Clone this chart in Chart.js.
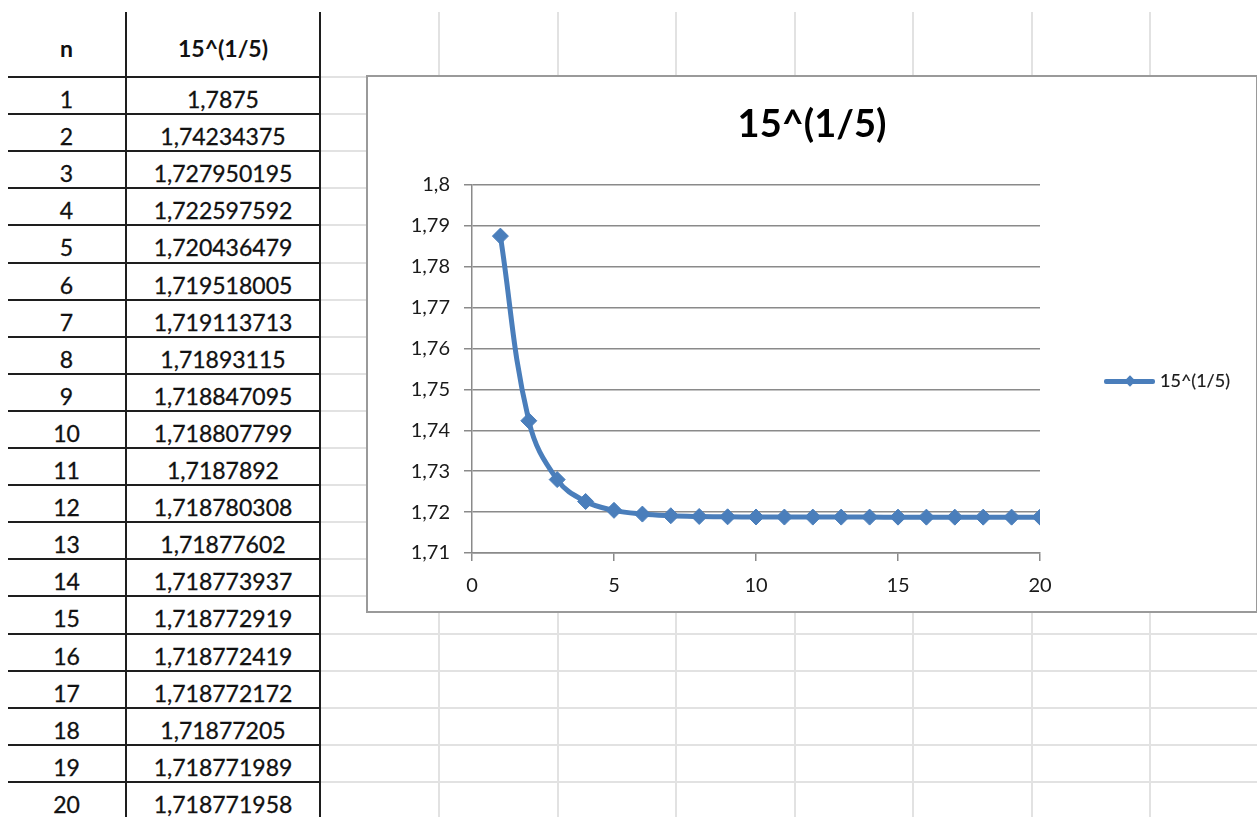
<!DOCTYPE html>
<html lang="ru">
<head>
  <meta charset="UTF-8" />
  <title>15^(1/5)</title>
  <script src="https://cdn.jsdelivr.net/npm/chart.js"></script>
  <style>
    * { box-sizing: border-box; }
    html, body { margin: 0; padding: 0; }
    body {
      width: 1257px;
      height: 817px;
      overflow: hidden;
      position: relative;
      background: #fff;
      font-family: Lato, 'Open Sans', sans-serif;
      color: #111;
    }
    .line { position: absolute; }
    .sheet { background: #e2e2e2; }
    .border { background: #1e1e1e; }
    .cell {
      position: absolute;
      text-align: center;
      font-size: 23px;
      line-height: 37px;
      padding-top: 4px;
      white-space: nowrap;
      -webkit-text-stroke: 0.3px #111;
    }
    .head { font-weight: 700; font-size: 23px; -webkit-text-stroke: 0; }
    #chartBox {
      position: absolute;
      left: 366px;
      top: 75px;
      width: 892px;
      height: 538px;
      border: 2px solid #9a9a9a;
      background: #fff;
    }
    #chartBox canvas { position: absolute; left: 0; top: 0; }
    .title {
      position: absolute;
      left: 0; right: 0;
      top: 27px;
      text-align: center;
      font-weight: 700;
      font-size: 38px;
      line-height: 37px;
      color: #000;
    }
    .legend-line {
      position: absolute;
      left: 736px; top: 302px;
      width: 51px; height: 5px;
      background: #4a7ebb;
      border-radius: 2px;
    }
    .legend-dot {
      position: absolute;
      left: 758px; top: 300px;
      width: 8px; height: 8px;
      background: #4a7ebb;
      transform: rotate(45deg);
    }
    .legend-text {
      position: absolute;
      left: 792px; top: 294px;
      font-size: 18px;
      line-height: 18px;
      color: #1a1a1a;
      -webkit-text-stroke: 0.2px #1a1a1a;
    }
  </style>
</head>
<body>
  <div id="sheet"></div>
  <div id="chartBox">
    <canvas id="chart" width="888" height="534"></canvas>
    <div class="title" id="title"></div>
    <div class="legend-line"></div>
    <div class="legend-dot"></div>
    <div class="legend-text" id="legendText"></div>
  </div>
  <script>
    const headers = ['n', '15^(1/5)'];
    const seriesName = '15^(1/5)';
    const nValues = [1, 2, 3, 4, 5, 6, 7, 8, 9, 10, 11, 12, 13, 14, 15, 16, 17, 18, 19, 20];
    const seriesValues = [
      1.7875, 1.74234375, 1.727950195, 1.722597592, 1.720436479,
      1.719518005, 1.719113713, 1.71893115, 1.718847095, 1.718807799,
      1.7187892, 1.718780308, 1.71877602, 1.718773937, 1.718772919,
      1.718772419, 1.718772172, 1.71877205, 1.718771989, 1.718771958
    ];
    const xRange = [0, 20];
    const xStep = 5;
    const yRange = [1.71, 1.8];
    const yStep = 0.01;

    const lineColor = '#4a7ebb';
    const gridColor = '#8a8a8a';
    const textColor = '#1a1a1a';
    const comma = v => String(v).replace('.', ',');

    // spreadsheet background: light grid + table borders
    const sheet = document.getElementById('sheet');
    const rowTop = 77, rowH = 37.1;
    function addLine(cls, x, y, w, h) {
      const d = document.createElement('div');
      d.className = 'line ' + cls;
      d.style.left = x + 'px'; d.style.top = y + 'px';
      d.style.width = w + 'px'; d.style.height = h + 'px';
      sheet.appendChild(d);
    }
    [439, 557.5, 676, 794.5, 913, 1031.5, 1150].forEach(x => addLine('sheet', x - 1, 12, 2, 805));
    for (let k = 0; k <= nValues.length; k++) {
      const y = rowTop + k * rowH;
      addLine('sheet', 320, y - 1, 937, 2);
      addLine('border', 8, y - 1, 313, 2);
    }
    addLine('border', 125, 12, 2, 805);
    addLine('border', 319, 12, 2, 805);

    function addCell(text, x, w, y, h, cls) {
      const d = document.createElement('div');
      d.className = 'cell ' + (cls || '');
      d.textContent = text;
      d.style.left = x + 'px'; d.style.width = w + 'px';
      d.style.top = y + 'px'; d.style.height = h + 'px';
      d.style.lineHeight = h + 'px';
      sheet.appendChild(d);
    }
    addCell(headers[0], 8, 117, 12, 65, 'head');
    addCell(headers[1], 126, 194, 12, 65, 'head');
    nValues.forEach((n, i) => {
      const y = rowTop + i * rowH;
      addCell(n, 8, 117, y, rowH);
      addCell(comma(seriesValues[i]), 126, 194, y, rowH);
    });

    document.getElementById('title').textContent = seriesName;
    document.getElementById('legendText').textContent = seriesName;

    const tickFont = { family: 'Lato', size: 20 };
    new Chart(document.getElementById('chart'), {
      type: 'line',
      data: {
        datasets: [{
          label: seriesName,
          data: nValues.map((n, i) => ({ x: n, y: seriesValues[i] })),
          borderColor: lineColor,
          backgroundColor: lineColor,
          borderWidth: 5,
          pointStyle: 'rectRot',
          pointRadius: 8,
          pointBorderWidth: 1,
          pointBackgroundColor: lineColor,
          pointBorderColor: lineColor,
          tension: 0.4,
          fill: false
        }]
      },
      options: {
        responsive: false,
        animation: false,
        layout: { padding: { left: 0, top: 108, right: 216, bottom: 0 } },
        plugins: { legend: { display: false }, tooltip: { enabled: false } },
        scales: {
          x: {
            type: 'linear',
            min: xRange[0], max: xRange[1],
            ticks: { stepSize: xStep, padding: 13, color: textColor, font: tickFont, maxRotation: 0 },
            grid: { drawOnChartArea: false, tickLength: 8, color: gridColor, lineWidth: 1.5 },
            border: { color: gridColor, width: 1.5 },
            afterFit: s => { s.height = 58; }
          },
          y: {
            min: yRange[0], max: yRange[1],
            ticks: {
              stepSize: yStep, padding: 14, color: textColor, font: tickFont,
              callback: v => comma(Math.round(v * 100) / 100)
            },
            grid: { tickLength: 8, color: gridColor, lineWidth: 1.5 },
            border: { color: gridColor, width: 1.5 },
            afterFit: s => { s.width = 104; }
          }
        }
      }
    });
  </script>
</body>
</html>
